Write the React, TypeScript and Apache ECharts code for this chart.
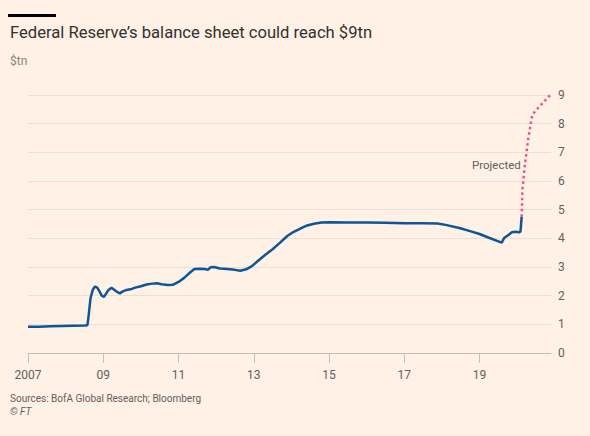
import React, { useEffect, useRef } from "react";
import * as echarts from "echarts";

const BASE_YEAR = 2007;
const xTickYears = [2007, 2009, 2011, 2013, 2015, 2017, 2019];
const yTicks = [0, 1, 2, 3, 4, 5, 6, 7, 8, 9];

const histYears = [
  2007.0, 2007.3, 2007.6, 2007.9, 2008.2, 2008.5, 2008.58, 2008.62, 2008.66, 2008.72,
  2008.78, 2008.84, 2008.9, 2008.96, 2009.02, 2009.08, 2009.14, 2009.22, 2009.3, 2009.38,
  2009.44, 2009.52, 2009.62, 2009.72, 2009.85, 2010.0, 2010.15, 2010.3, 2010.43, 2010.55,
  2010.72, 2010.85, 2011.0, 2011.15, 2011.3, 2011.42, 2011.55, 2011.7, 2011.78, 2011.85,
  2011.95, 2012.1, 2012.3, 2012.5, 2012.64, 2012.8, 2012.95, 2013.1, 2013.3, 2013.5,
  2013.7, 2013.89, 2014.05, 2014.25, 2014.42, 2014.6, 2014.8, 2015.0, 2015.5, 2016.0,
  2016.5, 2017.0, 2017.5, 2017.88, 2018.1, 2018.49, 2018.75, 2019.0, 2019.25, 2019.45,
  2019.59, 2019.66, 2019.75, 2019.86, 2019.96, 2020.05, 2020.09, 2020.12,
];
const histValues = [
  0.92, 0.92, 0.93, 0.94, 0.95, 0.96, 0.97, 1.4, 1.9, 2.2,
  2.32, 2.28, 2.15, 2.0, 1.96, 2.08, 2.2, 2.28, 2.2, 2.12,
  2.08, 2.15, 2.2, 2.22, 2.28, 2.33, 2.39, 2.42, 2.43, 2.4,
  2.37, 2.38, 2.48, 2.62, 2.8, 2.93, 2.94, 2.93, 2.9, 2.99,
  3.0, 2.95, 2.93, 2.9, 2.87, 2.92, 3.03, 3.2, 3.42, 3.62,
  3.85, 4.08, 4.22, 4.35, 4.45, 4.51, 4.55, 4.56, 4.55, 4.55,
  4.54, 4.53, 4.53, 4.52, 4.47, 4.35, 4.25, 4.15, 4.02, 3.92,
  3.85, 4.02, 4.1, 4.21, 4.23, 4.21, 4.24, 4.75,
];

const projYears = [2020.12, 2020.14, 2020.2, 2020.29, 2020.4, 2020.51, 2020.9];
const projValues = [4.75, 5.69, 6.5, 7.43, 8.3, 8.48, 9.03];

const FONT = "Roboto, 'Noto Sans', sans-serif";
const GREY = "#66605c";

export default function App() {
  const ref = useRef<HTMLDivElement>(null);
  useEffect(() => {
    if (!ref.current) return;
    const chart = echarts.init(ref.current, null, { renderer: "svg" });
    const toX = (y: number) => y - BASE_YEAR;
    const hist = histYears.map((y, i) => [toX(y), histValues[i]]);
    const proj = projYears.map((y, i) => [toX(y), projValues[i]]);
    const tickVals = xTickYears.map(toX);
    chart.setOption({
      animation: false,
      backgroundColor: "#fff1e5",
      textStyle: { fontFamily: FONT },
      grid: { left: 28, right: 39, top: 95, bottom: 83, containLabel: false },
      xAxis: {
        type: "value",
        min: 0,
        max: 13.9,
        interval: 2,
        axisLine: { show: true, lineStyle: { color: "#c9beb4", width: 1 } },
        axisTick: { show: true, length: 10, lineStyle: { color: "#c9beb4" }, customValues: tickVals },
        axisLabel: {
          customValues: tickVals,
          margin: 16,
          color: GREY,
          fontSize: 12,
          fontFamily: FONT,
          formatter: (v: number) => {
            const yr = Math.round(v + BASE_YEAR);
            return yr === BASE_YEAR ? String(yr) : String(yr % 100).padStart(2, "0");
          },
        },
        splitLine: { show: false },
      },
      yAxis: {
        type: "value",
        position: "right",
        min: yTicks[0],
        max: yTicks[yTicks.length - 1],
        interval: 1,
        axisLine: { show: false },
        axisTick: { show: false },
        axisLabel: { margin: 7, color: GREY, fontSize: 12, fontFamily: FONT },
        splitLine: { show: true, lineStyle: { color: "#eadfd3", width: 1 } },
      },
      series: [
        {
          type: "line",
          data: hist,
          showSymbol: false,
          lineStyle: { color: "#0f5499", width: 2.5 },
          z: 3,
        },
        {
          type: "line",
          data: proj,
          showSymbol: false,
          clip: false,
          lineStyle: { color: "#e8558a", width: 2.5, type: [2.5, 3] },
          z: 2,
        },
      ],
      graphic: [
        { type: "rect", left: 8, top: 14, shape: { width: 48, height: 3 }, style: { fill: "#000" } },
        {
          type: "text",
          left: 10,
          top: 24,
          style: { text: "Federal Reserve’s balance sheet could reach $9tn", font: `16.6px ${FONT}`, fill: "#33302e" },
        },
        { type: "text", left: 10, top: 55, style: { text: "$tn", font: `12px ${FONT}`, fill: "#8a837e" } },
        { type: "text", left: 472, top: 159, style: { text: "Projected", font: `11.5px ${FONT}`, fill: GREY } },
        {
          type: "text",
          left: 10,
          top: 393,
          style: { text: "Sources: BofA Global Research; Bloomberg", font: `10px ${FONT}`, fill: GREY },
        },
        { type: "text", left: 10, top: 406, style: { text: "© FT", font: `italic 10px ${FONT}`, fill: GREY } },
      ],
    });
    return () => chart.dispose();
  }, []);
  return <div ref={ref} style={{ position: "fixed", left: 0, top: 0, width: 590, height: 436 }} />;
}
